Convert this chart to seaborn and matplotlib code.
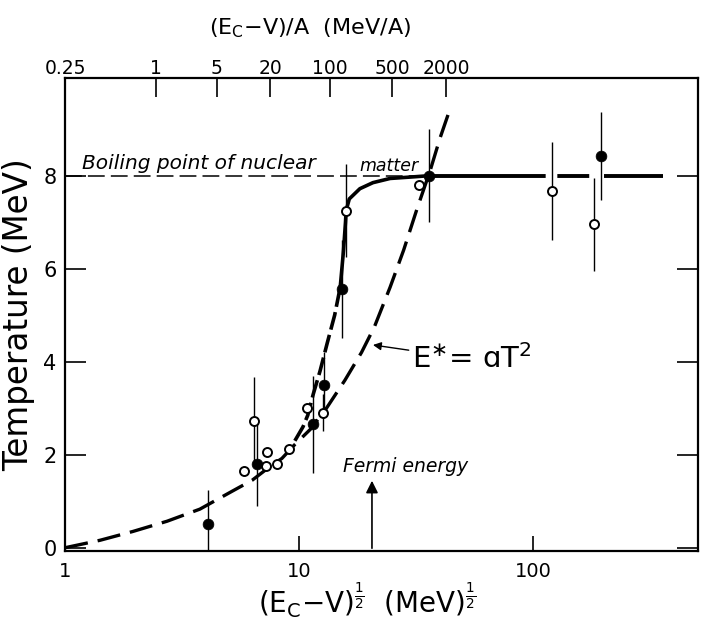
import matplotlib
matplotlib.use("Agg")
import matplotlib.pyplot as plt
import seaborn as sns

# ---------------- data ----------------
filled_x = [4.08, 6.62, 11.5, 12.8, 15.3, 36.0, 195.0]
filled_t = [0.5, 1.8, 2.65, 3.5, 5.57, 8.0, 8.42]
filled_err = [0.75, 0.9, 1.05, 0.7, 1.05, 1.0, 0.95]

open_x = [5.82, 6.42, 7.3, 7.2, 8.05, 9.06, 10.8, 12.7, 15.9, 32.6, 120.0, 182.0]
open_t = [1.65, 2.72, 2.05, 1.75, 1.8, 2.13, 3.0, 2.9, 7.25, 7.8, 7.67, 6.96]
open_err = [0.0, 0.95, 0.0, 0.0, 0.0, 0.0, 0.0, 0.4, 1.0, 0.0, 1.05, 1.0]

estar_x = [1.0, 1.41, 1.95, 2.73, 3.77, 5.2, 6.3, 7.67, 8.45, 9.6, 11.2, 13.1,
           15.7, 18.5, 21.0, 24.5, 28.0, 32.0, 36.3, 40.0, 44.3]
estar_t = [0.0, 0.16, 0.35, 0.57, 0.83, 1.22, 1.45, 1.78, 1.92, 2.22, 2.55, 3.0,
           3.6, 4.2, 4.75, 5.6, 6.4, 7.3, 8.1, 8.8, 9.45]

trans_dash_x = [9.6, 10.4, 10.9, 11.5, 12.3, 13.2, 14.2, 15.0]
trans_dash_t = [2.3, 2.6, 2.85, 3.3, 3.8, 4.4, 5.0, 5.6]
trans_solid_x = [15.0, 15.5, 15.8, 15.9, 16.4, 18.2, 20.7, 24.5, 31.9, 36.0]
trans_solid_t = [5.6, 6.4, 7.0, 7.25, 7.5, 7.72, 7.85, 7.94, 7.98, 8.0]

boil_x = [1.0, 31.9]
boil_t = [8.0, 8.0]
plateau_x = [36.0, 359.0]
plateau_t = [8.0, 8.0]

bottom_ticks = [1, 10, 100]
bottom_labels = ["1", "10", "100"]
y_ticks = [0, 2, 4, 6, 8]
top_labels = ["0.25", "1", "5", "20", "100", "500", "2000"]
top_pos = [1.0, 2.45, 4.46, 7.52, 13.6, 25.0, 42.5]

fermi_x = 20.5

# ---------------- style ----------------
sns.set_theme(style="white")
plt.rcParams["font.family"] = ["DejaVu Sans"]
plt.rcParams["mathtext.fontset"] = "dejavusans"
for k in ["text.color", "axes.labelcolor", "xtick.color", "ytick.color", "axes.edgecolor"]:
    plt.rcParams[k] = "black"

fig = plt.figure(figsize=(7.03, 6.23), dpi=100)
ax = fig.add_axes([65 / 703, 1 - 551 / 623, (698 - 65) / 703, (551 - 78) / 623])
ax.set_xscale("log")
ax.set_xlim(1, 507)
ax.set_ylim(-0.07, 10.1)

for s in ax.spines.values():
    s.set_color("black")
    s.set_linewidth(1.6)

# curves
sns.lineplot(x=estar_x, y=estar_t, ax=ax, color="black", lw=2.4, sort=False,
             linestyle=(0, (7, 3)), zorder=2)
sns.lineplot(x=trans_dash_x, y=trans_dash_t, ax=ax, color="black", lw=2.6, sort=False,
             linestyle=(0, (5, 1.5)), zorder=2)
sns.lineplot(x=trans_solid_x, y=trans_solid_t, ax=ax, color="black", lw=2.6, sort=False,
             linestyle="-", zorder=2)
sns.lineplot(x=boil_x, y=boil_t, ax=ax, color="black", lw=1.1, sort=False,
             linestyle=(0, (11, 4)), zorder=2)
sns.lineplot(x=plateau_x, y=plateau_t, ax=ax, color="black", lw=2.8, sort=False,
             linestyle=(0, (30, 3, 8.2, 3.8, 30)), zorder=2)

# error bars
ex = [x for x, e in zip(open_x, open_err) if e > 0]
ey = [y for y, e in zip(open_t, open_err) if e > 0]
ee = [e for e in open_err if e > 0]
ax.errorbar(ex, ey, yerr=ee, fmt="none", ecolor="black", elinewidth=1.0, capsize=0, zorder=3)
ax.errorbar(filled_x, filled_t, yerr=filled_err, fmt="none", ecolor="black",
            elinewidth=1.0, capsize=0, zorder=3)

# points
sns.scatterplot(x=open_x, y=open_t, ax=ax, marker="o", s=42, facecolor="white",
                edgecolor="black", linewidth=1.4, zorder=4)
sns.scatterplot(x=filled_x, y=filled_t, ax=ax, marker="o", s=60, color="black",
                edgecolor="black", linewidth=0.5, zorder=5)

# ticks
ax.set_xticks(bottom_ticks)
ax.set_xticklabels(bottom_labels)
ax.xaxis.set_minor_locator(matplotlib.ticker.NullLocator())
ax.set_yticks(y_ticks)
ax.tick_params(axis="x", which="major", direction="in", length=11, width=1.2,
               labelsize=14, pad=8, bottom=True)
ax.tick_params(axis="y", which="major", direction="in", length=15, width=1.2,
               labelsize=15, pad=6, left=True, right=True)

ax.set_ylabel("Temperature (MeV)", fontsize=23.5, labelpad=6)
ax.set_xlabel(r"(E$_\mathregular{C}$$-$V)$^{\frac{1}{2}}$  (MeV)$^{\frac{1}{2}}$",
              fontsize=20)
ax.xaxis.set_label_coords((367 - 65) / 633, -(613 - 551) / 473, transform=ax.transAxes)
ax.xaxis.label.set_va("baseline")

# top axis
top = ax.twiny()
top.set_xscale("log")
top.set_xlim(ax.get_xlim())
top.set_xticks(top_pos)
top.set_xticklabels(top_labels)
top.xaxis.set_minor_locator(matplotlib.ticker.NullLocator())
top.tick_params(axis="x", direction="in", length=14, width=1.2, labelsize=13.5, pad=0)
top.set_xlabel(r"(E$_\mathregular{C}$$-$V)/A  (MeV/A)", fontsize=16)
top.xaxis.set_label_coords((310 - 65) / 633, 1 + (78 - 28) / 473, transform=ax.transAxes)
top.xaxis.label.set_va("center")
for s in top.spines.values():
    s.set_visible(False)

# annotations
ax.text(1.18, 8.14, "Boiling point of nuclear", fontsize=14.5, style="italic",
        va="baseline", ha="left")
ax.text(18.2, 8.1, "matter", fontsize=12.5, style="italic", va="baseline", ha="left")
ax.text(15.4, 1.63, "Fermi energy", fontsize=13.5, style="italic", va="baseline", ha="left")
ax.annotate("", xy=(fermi_x, 1.5), xytext=(fermi_x, -0.07),
            arrowprops=dict(arrowstyle="-|>", color="black", lw=1.2, mutation_scale=18))
ax.annotate(r"E$^{\ast}$= ɑT$^{2}$", xy=(20.7, 4.36), xytext=(30.4, 4.05),
            fontsize=21, va="center", ha="left",
            arrowprops=dict(arrowstyle="-|>", color="black", lw=1.0, mutation_scale=12,
                            shrinkA=0, shrinkB=0))

fig.savefig("out.png", dpi=100)
